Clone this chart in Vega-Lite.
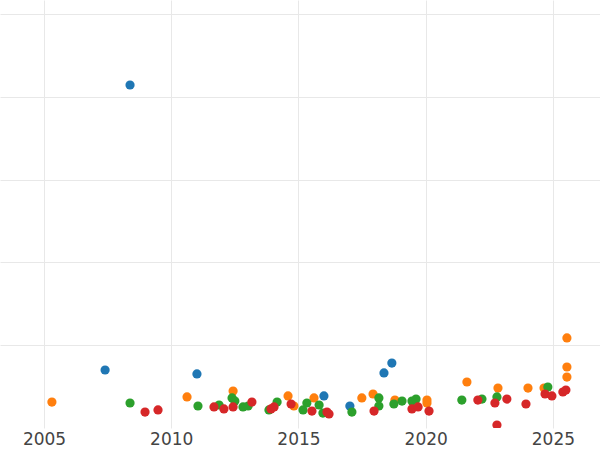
{
  "$schema": "https://vega.github.io/schema/vega-lite/v6.json",
  "width": 600,
  "height": 428,
  "padding": 0,
  "background": "white",
  "config": {
    "view": {"stroke": null},
    "axis": {"gridColor": "#e8e8e8", "gridWidth": 1, "domain": false, "ticks": false}
  },
  "data": {
    "values": [
      {"year": 2008.38, "value": 4.145, "series": "A"},
      {"year": 2007.40, "value": 0.701, "series": "A"},
      {"year": 2011.01, "value": 0.653, "series": "A"},
      {"year": 2016.00, "value": 0.387, "series": "A"},
      {"year": 2017.02, "value": 0.266, "series": "A"},
      {"year": 2018.36, "value": 0.665, "series": "A"},
      {"year": 2018.67, "value": 0.785, "series": "A"},
      {"year": 2005.31, "value": 0.314, "series": "B"},
      {"year": 2010.62, "value": 0.375, "series": "B"},
      {"year": 2012.43, "value": 0.447, "series": "B"},
      {"year": 2014.59, "value": 0.387, "series": "B"},
      {"year": 2014.82, "value": 0.266, "series": "B"},
      {"year": 2015.61, "value": 0.363, "series": "B"},
      {"year": 2017.49, "value": 0.363, "series": "B"},
      {"year": 2017.93, "value": 0.411, "series": "B"},
      {"year": 2018.79, "value": 0.338, "series": "B"},
      {"year": 2020.05, "value": 0.338, "series": "B"},
      {"year": 2020.05, "value": 0.302, "series": "B"},
      {"year": 2021.62, "value": 0.556, "series": "B"},
      {"year": 2022.84, "value": 0.483, "series": "B"},
      {"year": 2024.02, "value": 0.483, "series": "B"},
      {"year": 2024.65, "value": 0.483, "series": "B"},
      {"year": 2025.55, "value": 1.088, "series": "B"},
      {"year": 2025.55, "value": 0.737, "series": "B"},
      {"year": 2025.55, "value": 0.616, "series": "B"},
      {"year": 2008.38, "value": 0.302, "series": "C"},
      {"year": 2011.05, "value": 0.266, "series": "C"},
      {"year": 2011.88, "value": 0.278, "series": "C"},
      {"year": 2012.39, "value": 0.363, "series": "C"},
      {"year": 2012.50, "value": 0.326, "series": "C"},
      {"year": 2012.82, "value": 0.254, "series": "C"},
      {"year": 2013.02, "value": 0.266, "series": "C"},
      {"year": 2013.84, "value": 0.218, "series": "C"},
      {"year": 2014.16, "value": 0.314, "series": "C"},
      {"year": 2015.18, "value": 0.218, "series": "C"},
      {"year": 2015.33, "value": 0.302, "series": "C"},
      {"year": 2015.81, "value": 0.278, "series": "C"},
      {"year": 2015.96, "value": 0.181, "series": "C"},
      {"year": 2017.10, "value": 0.193, "series": "C"},
      {"year": 2018.16, "value": 0.363, "series": "C"},
      {"year": 2018.16, "value": 0.266, "series": "C"},
      {"year": 2018.75, "value": 0.290, "series": "C"},
      {"year": 2019.07, "value": 0.326, "series": "C"},
      {"year": 2019.46, "value": 0.326, "series": "C"},
      {"year": 2019.62, "value": 0.350, "series": "C"},
      {"year": 2021.42, "value": 0.338, "series": "C"},
      {"year": 2022.21, "value": 0.350, "series": "C"},
      {"year": 2022.80, "value": 0.375, "series": "C"},
      {"year": 2024.80, "value": 0.495, "series": "C"},
      {"year": 2008.97, "value": 0.193, "series": "D"},
      {"year": 2009.48, "value": 0.218, "series": "D"},
      {"year": 2011.68, "value": 0.254, "series": "D"},
      {"year": 2012.07, "value": 0.230, "series": "D"},
      {"year": 2012.43, "value": 0.254, "series": "D"},
      {"year": 2013.17, "value": 0.314, "series": "D"},
      {"year": 2013.92, "value": 0.230, "series": "D"},
      {"year": 2014.04, "value": 0.254, "series": "D"},
      {"year": 2014.71, "value": 0.290, "series": "D"},
      {"year": 2015.53, "value": 0.205, "series": "D"},
      {"year": 2016.12, "value": 0.193, "series": "D"},
      {"year": 2016.20, "value": 0.169, "series": "D"},
      {"year": 2017.97, "value": 0.205, "series": "D"},
      {"year": 2019.46, "value": 0.230, "series": "D"},
      {"year": 2019.70, "value": 0.254, "series": "D"},
      {"year": 2020.13, "value": 0.205, "series": "D"},
      {"year": 2022.05, "value": 0.338, "series": "D"},
      {"year": 2022.72, "value": 0.302, "series": "D"},
      {"year": 2022.80, "value": 0.036, "series": "D"},
      {"year": 2023.19, "value": 0.350, "series": "D"},
      {"year": 2023.94, "value": 0.290, "series": "D"},
      {"year": 2024.69, "value": 0.411, "series": "D"},
      {"year": 2024.96, "value": 0.387, "series": "D"},
      {"year": 2025.39, "value": 0.435, "series": "D"},
      {"year": 2025.51, "value": 0.459, "series": "D"}
    ]
  },
  "mark": {"type": "circle", "size": 85, "opacity": 1, "clip": true},
  "encoding": {
    "x": {
      "field": "year", "type": "quantitative",
      "scale": {"domain": [2003.27, 2026.85], "nice": false, "zero": false},
      "axis": {"title": null, "values": [2005, 2010, 2015, 2020, 2025], "format": "d",
               "labelFont": "DejaVu Sans", "labelFontSize": 17, "labelColor": "#444444", "labelPadding": 3, "grid": true}
    },
    "y": {
      "field": "value", "type": "quantitative",
      "scale": {"domain": [0, 5.172], "nice": false},
      "axis": {"title": null, "labels": false, "values": [1, 2, 3, 4, 5], "grid": true, "minExtent": 0, "maxExtent": 0}
    },
    "color": {
      "field": "series", "type": "nominal",
      "scale": {"domain": ["A", "B", "C", "D"], "range": ["#1f77b4", "#ff7f0e", "#2ca02c", "#d62728"]},
      "legend": null
    }
  }
}
